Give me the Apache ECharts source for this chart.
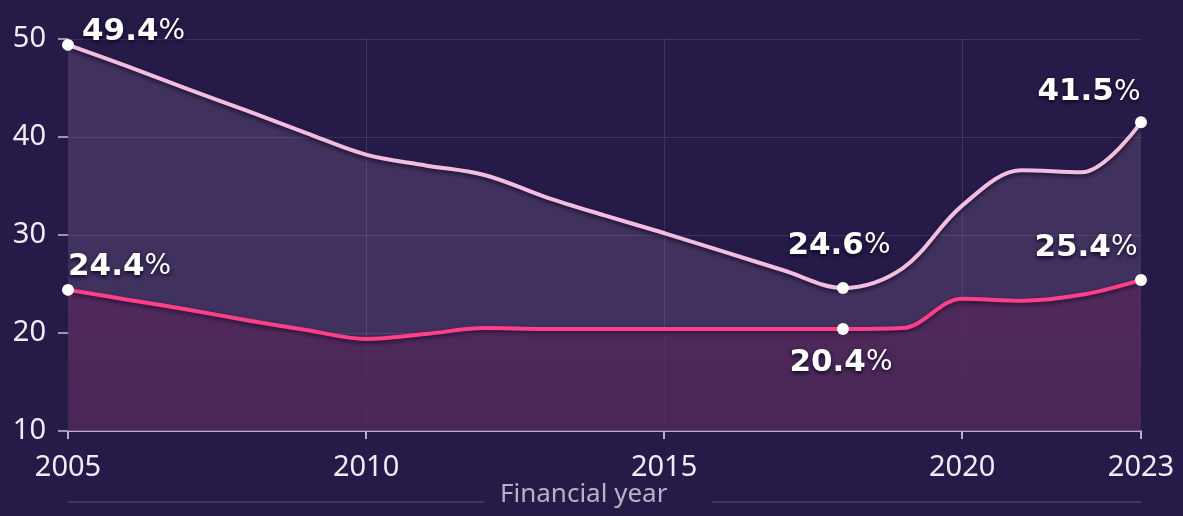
<!DOCTYPE html>
<html>
<head>
<meta charset="utf-8">
<script src="https://cdn.jsdelivr.net/npm/echarts@6/dist/echarts.min.js"></script>
<style>
  html, body { margin: 0; padding: 0; background: #261b48; }
  #chart { width: 1183px; height: 516px; }
</style>
</head>
<body>
<div id="chart"></div>
<script>
// financial years on the x axis
const years = ['2005', '2006', '2007', '2008', '2009', '2010', '2011', '2012', '2013', '2014',
  '2015', '2016', '2017', '2018', '2019', '2020', '2021', '2022', '2023'];
// upper (light pink) line, %
const upperShare = [49.4, 47.2, 44.9, 42.7, 40.4, 38.2, 37.1, 36.1, 33.9, 32.0,
  30.2, 28.3, 26.4, 24.6, 26.6, 33.0, 36.6, 36.4, 41.5];
// lower (hot pink) line, %
const lowerShare = [24.4, 23.4, 22.4, 21.3, 20.3, 19.4, 19.9, 20.5, 20.4, 20.4,
  20.4, 20.4, 20.4, 20.4, 20.5, 23.5, 23.3, 23.9, 25.4];
const shownYears = ['2005', '2010', '2015', '2020', '2023'];

// where to put the value callouts (index -> label placement)
const upperCallouts = {
  0: { position: [20, -7], align: 'left' },
  13: { position: [2, -36], align: 'center' },
  18: { position: [-46, -24], align: 'center' }
};
const lowerCallouts = {
  0: { position: [6, -17], align: 'left' },
  13: { position: [4, 40], align: 'center' },
  18: { position: [-49, -26], align: 'center' }
};

const labelRich = {
  num: { fontFamily: 'DejaVu Sans', fontWeight: 'bold', fontSize: 31, color: '#ffffff' },
  pct: { fontFamily: 'DejaVu Sans', fontWeight: 'normal', fontSize: 28, color: '#ffffff' }
};

const buildData = (values, callouts) => values.map((v, i) => {
  const c = callouts[i];
  if (!c) return { value: v, symbolSize: 0 };
  return {
    value: v,
    symbol: 'circle',
    symbolSize: 12,
    itemStyle: { color: '#ffffff' },
    label: {
      show: true,
      position: c.position,
      align: c.align,
      verticalAlign: 'middle',
      formatter: '{num|' + v.toFixed(1) + '}{pct|%}',
      rich: labelRich,
      textShadowColor: 'rgba(10,5,30,0.95)',
      textShadowBlur: 4,
      textShadowOffsetY: 2
    }
  };
});

const showYear = (i) => shownYears.indexOf(years[i]) >= 0;

const chart = echarts.init(document.getElementById('chart'));
chart.setOption({
  backgroundColor: '#261b48',
  animation: false,
  grid: { left: 68, right: 42, top: 39, bottom: 85 },
  xAxis: {
    type: 'category',
    data: years,
    boundaryGap: false,
    axisLine: { lineStyle: { color: '#b9b1c9', width: 2 } },
    axisTick: {
      show: true,
      interval: (i) => showYear(i),
      length: 8,
      lineStyle: { color: '#b9b1c9', width: 2 }
    },
    axisLabel: {
      interval: (i) => showYear(i),
      margin: 22,
      color: '#f0ecf6',
      fontFamily: 'Noto Sans',
      fontSize: 29
    },
    splitLine: {
      show: true,
      interval: (i) => i > 0 && i < years.length - 1 && showYear(i),
      lineStyle: { color: 'rgba(255,255,255,0.1)', width: 1 }
    }
  },
  yAxis: {
    type: 'value',
    min: 10,
    max: 50,
    interval: 10,
    axisLine: { show: false },
    axisTick: { show: true, length: 10, lineStyle: { color: '#9e94b4', width: 2 } },
    axisLabel: { margin: 22, color: '#f0ecf6', fontFamily: 'Noto Sans', fontSize: 29 },
    splitLine: { lineStyle: { color: 'rgba(255,255,255,0.1)', width: 1 } }
  },
  graphic: [
    {
      type: 'text',
      left: 500,
      top: 482,
      style: { text: 'Financial year', fill: '#b9b2c6', font: '26px "Noto Sans"' }
    },
    {
      type: 'line',
      shape: { x1: 68, y1: 502, x2: 484, y2: 502 },
      style: { stroke: 'rgba(255,255,255,0.12)', lineWidth: 2 }
    },
    {
      type: 'line',
      shape: { x1: 712, y1: 502, x2: 1141, y2: 502 },
      style: { stroke: 'rgba(255,255,255,0.12)', lineWidth: 2 }
    }
  ],
  series: [
    {
      name: 'upper',
      type: 'line',
      smooth: 0.35,
      data: buildData(upperShare, upperCallouts),
      lineStyle: {
        color: '#f2bde0',
        width: 4,
        shadowColor: 'rgba(8,4,25,0.7)',
        shadowBlur: 4,
        shadowOffsetY: 2
      },
      areaStyle: {
        color: 'rgba(228,182,236,0.2)'
      },
      z: 2
    },
    {
      name: 'lower',
      type: 'line',
      smooth: 0.35,
      data: buildData(lowerShare, lowerCallouts),
      lineStyle: {
        color: '#ff3f88',
        width: 4,
        shadowColor: 'rgba(8,4,25,0.6)',
        shadowBlur: 4,
        shadowOffsetY: 2
      },
      areaStyle: {
        color: new echarts.graphic.LinearGradient(0, 0, 0, 1, [
          { offset: 0, color: '#58275b' },
          { offset: 1, color: '#4c2254' }
        ])
      },
      z: 3
    }
  ]
});

window.addEventListener('resize', () => chart.resize());
</script>
</body>
</html>
